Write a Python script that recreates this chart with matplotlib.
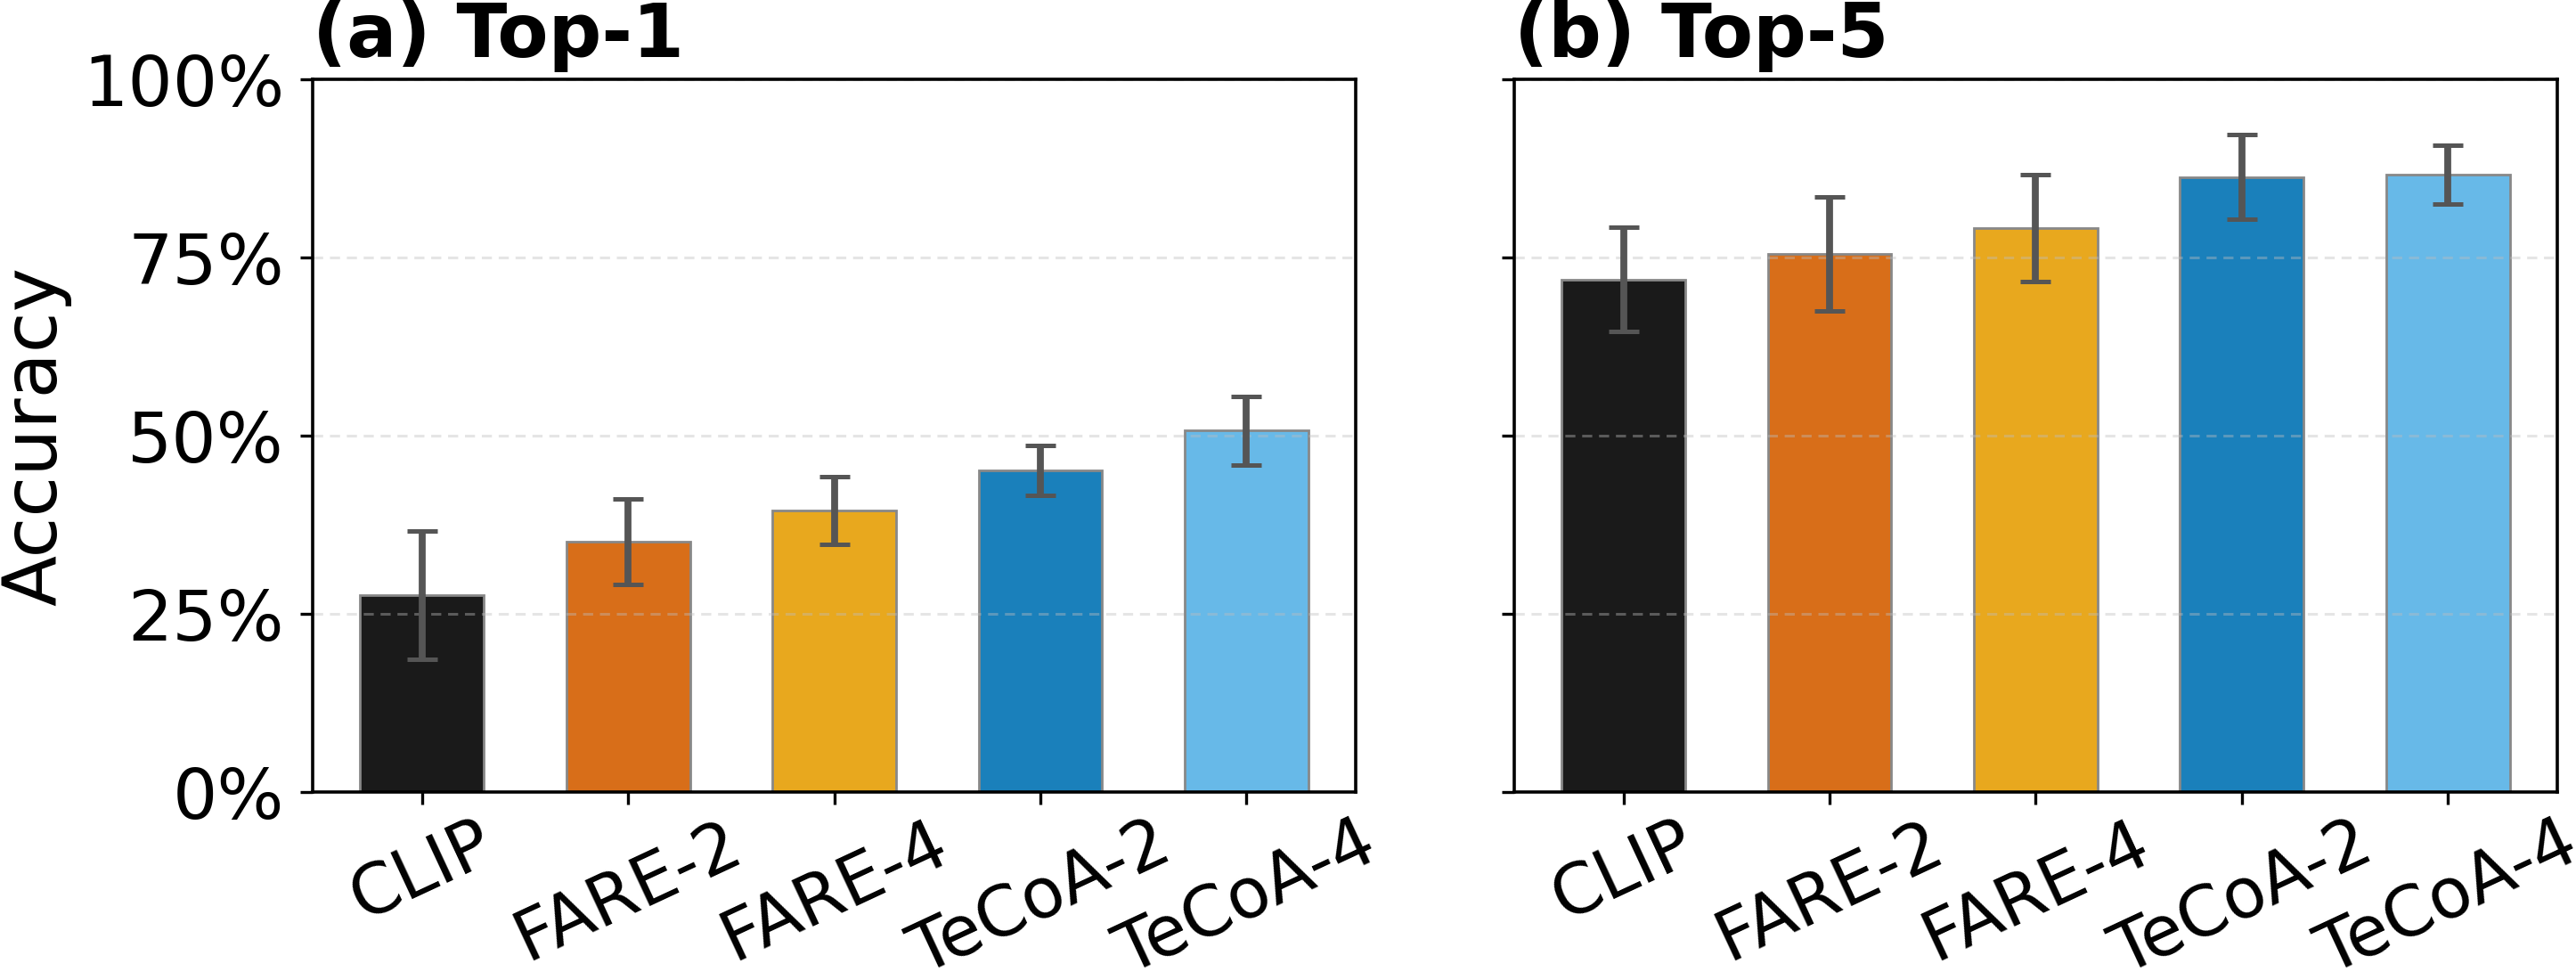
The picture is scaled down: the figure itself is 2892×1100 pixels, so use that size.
import matplotlib
matplotlib.use("Agg")
import matplotlib.pyplot as plt
from matplotlib.ticker import PercentFormatter

models = ["CLIP", "FARE-2", "FARE-4", "TeCoA-2", "TeCoA-4"]
top1 = [27.6, 35.1, 39.5, 45.1, 50.7]
top1_err = [9.0, 6.0, 4.7, 3.5, 4.8]
top5 = [71.9, 75.5, 79.1, 86.3, 86.6]
top5_err = [7.3, 8.0, 7.5, 5.9, 4.1]
titles = ["(a) Top-1", "(b) Top-5"]
colors = ["#1a1a1a", "#d86e19", "#e8a81e", "#1a80bb", "#67b9e8"]

fig = plt.figure(figsize=(14.46, 5.5), dpi=200)
ax1 = fig.add_axes([0.1214, 0.1918, 0.4049, 0.7273])
ax2 = fig.add_axes([0.5878, 0.1918, 0.4049, 0.7273], sharey=ax1)

for ax, vals, errs, title in [(ax1, top1, top1_err, titles[0]), (ax2, top5, top5_err, titles[1])]:
    x = range(len(models))
    ax.bar(x, vals, width=0.6, color=colors, edgecolor="#888888", linewidth=1.0, zorder=2)
    ax.errorbar(x, vals, yerr=errs, fmt="none", ecolor="#555555", elinewidth=2.8,
                capsize=6, capthick=1.8, zorder=4)
    ax.set_ylim(0, 100)
    ax.set_yticks([0, 25, 50, 75, 100])
    ax.yaxis.set_major_formatter(PercentFormatter(decimals=0))
    ax.set_xticks(list(x))
    ax.set_xticklabels(models, rotation=25, ha="center", fontsize=28)
    ax.tick_params(axis="y", labelsize=28.5, length=5, width=1.2, pad=6.5)
    ax.tick_params(axis="x", length=5, width=1.2, pad=2)
    ax.grid(axis="y", linestyle=(0, (3.7, 2.5)), color="#bebebe", alpha=0.4,
            linewidth=1.1, zorder=3)
    ax.set_axisbelow(False)
    for s in ax.spines.values():
        s.set_linewidth(1.3)
        s.set_zorder(5)
    ax.set_title(title, loc="left", fontsize=30, fontweight="bold", pad=9)

ax1.set_ylabel("Accuracy", fontsize=30)
ax1.yaxis.set_label_coords(-0.231, 0.5)
plt.setp(ax2.get_yticklabels(), visible=False)

fig.savefig("out.png", dpi=200)
